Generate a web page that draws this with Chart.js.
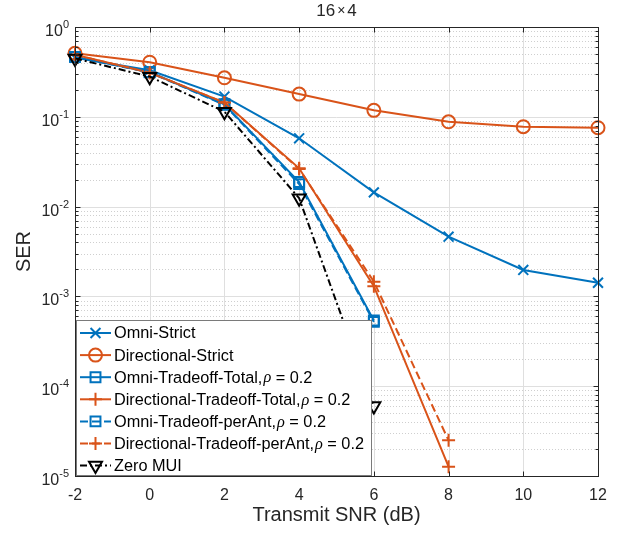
<!DOCTYPE html>
<html>
<head>
<meta charset="utf-8">
<script src="https://cdn.jsdelivr.net/npm/chart.js@4.4.1/dist/chart.umd.min.js"></script>
<style>
  html, body { margin: 0; padding: 0; background: #fff; }
  #wrap { width: 624px; height: 535px; }
</style>
</head>
<body>
<div id="wrap"><canvas id="serChart"></canvas></div>
<script>
// ---- data ----
const snr = [-2, 0, 2, 4, 6, 8, 10, 12];
const omniStrict   = [0.455, 0.33, 0.168, 0.0576, 0.0144, 0.00462, 0.00197, 0.00142];
const dirStrict    = [0.509, 0.405, 0.272, 0.179, 0.118, 0.088, 0.0776, 0.0756];
const omniTotal    = [0.465, 0.315, 0.138, 0.0188, 0.00054, null, null, null];
const dirTotal     = [0.49, 0.31, 0.144, 0.0267, 0.0013, 0.0000127, null, null];
const omniPerAnt   = [0.465, 0.312, 0.136, 0.0178, 0.00052, null, null, null];
const dirPerAnt    = [0.49, 0.31, 0.144, 0.0262, 0.00146, 0.000025, null, null];
const zeroMui      = [0.447, 0.28, 0.114, 0.0124, 0.00006, null, null, null];

const seriesNames = [
  'Omni-Strict',
  'Directional-Strict',
  'Omni-Tradeoff-Total,',
  'Directional-Tradeoff-Total,',
  'Omni-Tradeoff-perAnt,',
  'Directional-Tradeoff-perAnt,',
  'Zero MUI'
];
const rhoValue = 0.2;
const xTicks = [-2, 0, 2, 4, 6, 8, 10, 12];
const yExponents = [-5, -4, -3, -2, -1, 0];
const titleParts = ['16', '\u00d7', '4'];
const xLabel = 'Transmit SNR (dB)';
const yLabel = 'SER';

const BLUE = '#0072BD';
const ORANGE = '#D95319';
const BLACK = '#000000';
const AXIS = '#262626';
const FONT = '"Liberation Sans", Arial, Helvetica, sans-serif';

const styles = [
  { color: BLUE,   marker: 'crossRot', r: 7,   dash: [],           rho: false },
  { color: ORANGE, marker: 'circle',   r: 6.5, dash: [],           rho: false },
  { color: BLUE,   marker: 'rect',     r: 7,   dash: [],           rho: true },
  { color: ORANGE, marker: 'cross',    r: 6.5, dash: [],           rho: true },
  { color: BLUE,   marker: 'rect',     r: 7,   dash: [8, 4],       rho: true },
  { color: ORANGE, marker: 'cross',    r: 6.5, dash: [8, 4],       rho: true },
  { color: BLACK,  marker: 'triangle', r: 7.5, dash: [7, 3, 2, 3], rho: false }
];
const seriesValues = [omniStrict, dirStrict, omniTotal, dirTotal, omniPerAnt, dirPerAnt, zeroMui];

const datasets = seriesValues.map((vals, i) => {
  const s = styles[i];
  return {
    label: seriesNames[i],
    data: snr.map((x, j) => ({ x: x, y: vals[j] })),
    borderColor: s.color,
    borderWidth: 2,
    borderDash: s.dash,
    backgroundColor: 'rgba(0,0,0,0)',
    pointStyle: s.marker,
    pointRotation: s.marker === 'triangle' ? 180 : 0,
    pointRadius: s.r,
    pointBorderWidth: 2,
    pointBorderColor: s.color,
    pointBackgroundColor: 'rgba(0,0,0,0)',
    tension: 0,
    fill: false,
    spanGaps: false,
    clip: false,
    order: seriesValues.length - i
  };
});

// minor + major y tick values for the log axis
const yMajor = yExponents.map(e => Math.pow(10, e));
const yMinor = [];
yExponents.slice(0, -1).forEach(e => {
  for (let k = 2; k <= 9; k++) yMinor.push(k * Math.pow(10, e));
});

function crisp(v) { return Math.round(v) + 0.5; }

function drawMarker(ctx, style, r, x, y) {
  ctx.beginPath();
  if (style === 'circle') {
    ctx.arc(x, y, r, 0, Math.PI * 2);
  } else if (style === 'rect') {
    const h = r * Math.SQRT1_2;
    ctx.rect(x - h, y - h, 2 * h, 2 * h);
  } else if (style === 'cross') {
    ctx.moveTo(x - r, y); ctx.lineTo(x + r, y);
    ctx.moveTo(x, y - r); ctx.lineTo(x, y + r);
  } else if (style === 'crossRot') {
    const h = r * Math.SQRT1_2;
    ctx.moveTo(x - h, y - h); ctx.lineTo(x + h, y + h);
    ctx.moveTo(x + h, y - h); ctx.lineTo(x - h, y + h);
  } else if (style === 'triangle') {
    // pointing down
    ctx.moveTo(x, y + r);
    ctx.lineTo(x - r * Math.sin(Math.PI / 3), y - r * 0.5);
    ctx.lineTo(x + r * Math.sin(Math.PI / 3), y - r * 0.5);
    ctx.closePath();
  }
  ctx.stroke();
}

const matlabAxes = {
  id: 'matlabAxes',
  beforeDatasetsDraw(chart) {
    const { ctx, chartArea: a, scales: { x, y } } = chart;
    ctx.save();
    ctx.lineWidth = 1;
    // minor dotted grid
    ctx.strokeStyle = '#cfcfcf';
    ctx.setLineDash([1, 2]);
    yMinor.forEach(v => {
      const py = crisp(y.getPixelForValue(v));
      ctx.beginPath(); ctx.moveTo(a.left, py); ctx.lineTo(a.right, py); ctx.stroke();
    });
    // major grid
    ctx.setLineDash([]);
    ctx.strokeStyle = '#dfdfdf';
    yMajor.forEach(v => {
      const py = crisp(y.getPixelForValue(v));
      ctx.beginPath(); ctx.moveTo(a.left, py); ctx.lineTo(a.right, py); ctx.stroke();
    });
    xTicks.forEach(v => {
      const px = crisp(x.getPixelForValue(v));
      ctx.beginPath(); ctx.moveTo(px, a.top); ctx.lineTo(px, a.bottom); ctx.stroke();
    });
    ctx.restore();
  },
  afterDatasetsDraw(chart) {
    const { ctx, chartArea: a, scales: { x, y } } = chart;
    ctx.save();
    ctx.setLineDash([]);
    ctx.lineWidth = 1;
    ctx.strokeStyle = AXIS;
    const L = crisp(a.left), R = crisp(a.right), T = crisp(a.top), B = crisp(a.bottom);
    // tick marks
    ctx.beginPath();
    xTicks.forEach(v => {
      const px = crisp(x.getPixelForValue(v));
      ctx.moveTo(px, B); ctx.lineTo(px, B - 5);
      ctx.moveTo(px, T); ctx.lineTo(px, T + 5);
    });
    yMajor.forEach(v => {
      const py = crisp(y.getPixelForValue(v));
      ctx.moveTo(L, py); ctx.lineTo(L + 5, py);
      ctx.moveTo(R, py); ctx.lineTo(R - 5, py);
    });
    yMinor.forEach(v => {
      const py = crisp(y.getPixelForValue(v));
      ctx.moveTo(L, py); ctx.lineTo(L + 3, py);
      ctx.moveTo(R, py); ctx.lineTo(R - 3, py);
    });
    ctx.stroke();
    // box
    ctx.strokeRect(L, T, R - L, B - T);

    // legend
    const lx = 76.5, ly = 320.5, lw = 295, lh = 155;
    ctx.fillStyle = '#ffffff';
    ctx.fillRect(lx, ly, lw, lh);
    ctx.strokeStyle = '#7a7a7a';
    ctx.strokeRect(lx, ly, lw, lh);
    ctx.textBaseline = 'middle';
    const lf = '16.3px ' + FONT;
    seriesNames.forEach((name, i) => {
      const s = styles[i];
      const cy = 333 + i * 22.1;
      ctx.strokeStyle = s.color;
      ctx.lineWidth = 2;
      ctx.setLineDash(s.dash);
      ctx.beginPath(); ctx.moveTo(80, cy); ctx.lineTo(111, cy); ctx.stroke();
      ctx.setLineDash([]);
      drawMarker(ctx, s.marker, s.r, 95.5, cy);
      ctx.fillStyle = '#000';
      ctx.font = lf;
      let tx = 114;
      ctx.textAlign = 'left';
      ctx.fillText(name, tx, cy + 1);
      if (s.rho) {
        tx += ctx.measureText(name).width;
        ctx.font = 'italic 16.3px "Liberation Serif", "DejaVu Serif", serif';
        ctx.fillText('\u03c1', tx + 1, cy + 1);
        tx += ctx.measureText('\u03c1').width + 1;
        ctx.font = lf;
        ctx.fillText(' = ' + rhoValue, tx, cy + 1);
      }
    });
    ctx.restore();
  },
  afterDraw(chart) {
    const { ctx, chartArea: a, scales: { x, y } } = chart;
    ctx.save();
    ctx.fillStyle = AXIS;
    ctx.textBaseline = 'alphabetic';
    // x tick labels
    ctx.font = '16px ' + FONT;
    ctx.textAlign = 'center';
    xTicks.forEach(v => {
      ctx.fillText(String(v), x.getPixelForValue(v), a.bottom + 24);
    });
    // y tick labels 10^e
    yExponents.forEach(e => {
      const py = y.getPixelForValue(Math.pow(10, e));
      const exp = String(e);
      ctx.font = '11px ' + FONT;
      const ew = ctx.measureText(exp).width;
      const right = a.left - 6;
      ctx.textAlign = 'left';
      ctx.fillText(exp, right - ew, py + 1);
      ctx.font = '16px ' + FONT;
      ctx.textAlign = 'right';
      ctx.fillText('10', right - ew, py + 9);
    });
    // axis titles
    ctx.font = '20px ' + FONT;
    ctx.textAlign = 'center';
    ctx.fillText(xLabel, (a.left + a.right) / 2, a.bottom + 45);
    ctx.save();
    ctx.translate(30, (a.top + a.bottom) / 2);
    ctx.rotate(-Math.PI / 2);
    ctx.fillText(yLabel, 0, 0);
    ctx.restore();
    // title "16 x 4"
    ctx.textAlign = 'left';
    const big = '17px ' + FONT, small = '14px ' + FONT;
    ctx.font = big;
    const w1 = ctx.measureText(titleParts[0]).width;
    const w3 = ctx.measureText(titleParts[2]).width;
    ctx.font = small;
    const w2 = ctx.measureText(titleParts[1]).width;
    const gap = 2;
    let tx = (a.left + a.right) / 2 - (w1 + w2 + w3 + 2 * gap) / 2;
    const ty = a.top - 11;
    ctx.font = big;
    ctx.fillText(titleParts[0], tx, ty);
    tx += w1 + gap;
    ctx.font = small;
    ctx.fillText(titleParts[1], tx, ty - 1);
    tx += w2 + gap;
    ctx.font = big;
    ctx.fillText(titleParts[2], tx, ty);
    ctx.restore();
  }
};

const ctx = document.getElementById('serChart').getContext('2d');
new Chart(ctx, {
  type: 'line',
  data: { datasets: datasets },
  options: {
    responsive: true,
    maintainAspectRatio: false,
    animation: false,
    layout: { padding: { left: 75, top: 27, right: 26, bottom: 59 } },
    plugins: { legend: { display: false }, tooltip: { enabled: false }, title: { display: false } },
    scales: {
      x: { type: 'linear', min: -2, max: 12, display: false },
      y: { type: 'logarithmic', min: 1e-5, max: 1, display: false }
    }
  },
  plugins: [matlabAxes]
});
</script>
</body>
</html>
